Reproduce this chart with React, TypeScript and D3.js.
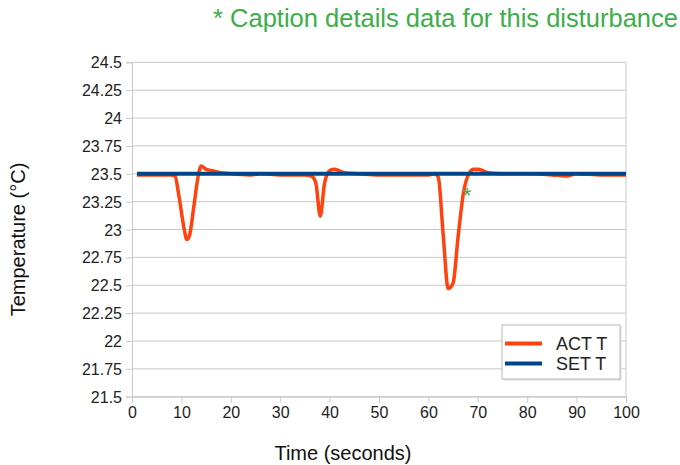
import React, { useEffect, useRef } from 'react';
import * as d3 from 'd3';

const actTime = [1, 5, 8, 8.7, 9.5, 10.5, 11.1, 11.6, 12.5, 13.4, 14, 15, 16, 18, 20, 24, 26, 30, 35, 36.3, 37.2, 38.1, 39, 40.1, 41, 43, 46, 50, 55, 60, 61.3, 62, 63, 64, 65, 66, 67.1, 68.2, 69.2, 70.2, 72, 75, 80, 85, 88, 90, 95, 100];
const actTemp = [23.49, 23.49, 23.49, 23.48, 23.3, 23.02, 22.91, 22.94, 23.2, 23.48, 23.57, 23.54, 23.53, 23.51, 23.5, 23.49, 23.5, 23.49, 23.49, 23.48, 23.42, 23.12, 23.42, 23.53, 23.54, 23.51, 23.5, 23.49, 23.49, 23.49, 23.5, 23.47, 22.95, 22.47, 22.52, 22.93, 23.33, 23.5, 23.54, 23.54, 23.51, 23.5, 23.5, 23.49, 23.48, 23.5, 23.49, 23.49];
const setTime = [1, 100];
const setTemp = [23.5, 23.5];

const xTicks = [0, 10, 20, 30, 40, 50, 60, 70, 80, 90, 100];
const yTicks = [21.5, 21.75, 22, 22.25, 22.5, 22.75, 23, 23.25, 23.5, 23.75, 24, 24.25, 24.5];

const seriesNames = ['ACT T', 'SET T'];
const seriesColors = ['#ff420e', '#004586'];

const marker = { time: 67.8, temp: 23.33 };
const caption = '* Caption details data for this disturbance';

export default function App() {
  const svgRef = useRef<SVGSVGElement>(null);

  useEffect(() => {
    if (!svgRef.current) return;
    const svg = d3.select(svgRef.current);
    svg.selectAll('*').remove();

    const font = '"Liberation Sans", Arial, sans-serif';
    const left = 132, right = 626, top = 62.3, bottom = 396.7;

    const x = d3.scaleLinear().domain([0, 100]).range([left, right]);
    const y = d3.scaleLinear().domain([21.5, 24.5]).range([bottom, top]);

    // grid
    svg.append('g')
      .selectAll('line')
      .data(yTicks)
      .enter()
      .append('line')
      .attr('x1', left)
      .attr('x2', right)
      .attr('y1', d => y(d))
      .attr('y2', d => y(d))
      .attr('stroke', '#c8c8c8')
      .attr('stroke-width', 1);

    svg.append('line')
      .attr('x1', right).attr('x2', right)
      .attr('y1', top).attr('y2', bottom)
      .attr('stroke', '#c8c8c8');

    // axes
    const yAxis = svg.append('g')
      .attr('transform', `translate(${left},0)`)
      .call(d3.axisLeft(y).tickValues(yTicks).tickSize(6).tickPadding(4).tickFormat(d => String(d)));
    yAxis.select('.domain').attr('stroke', '#c8c8c8');
    yAxis.selectAll('.tick line').attr('stroke', '#c8c8c8');
    yAxis.selectAll('.tick text')
      .attr('fill', '#222')
      .attr('font-size', '16px')
      .attr('font-family', font)
      .attr('dy', '0.35em');

    const xAxis = svg.append('g')
      .attr('transform', `translate(0,${bottom})`)
      .call(d3.axisBottom(x).tickValues(xTicks).tickSize(6).tickPadding(4).tickFormat(d => String(d)));
    xAxis.select('.domain').attr('stroke', '#c8c8c8');
    xAxis.selectAll('.tick line').attr('stroke', '#c8c8c8');
    xAxis.selectAll('.tick text')
      .attr('fill', '#222')
      .attr('font-size', '16px')
      .attr('font-family', font);

    // lines
    const line = d3.line<[number, number]>()
      .x(d => x(d[0]))
      .y(d => y(d[1]))
      .curve(d3.curveMonotoneX);

    const actData = actTime.map((t, i) => [t, actTemp[i]] as [number, number]);
    const setData = setTime.map((t, i) => [t, setTemp[i]] as [number, number]);

    svg.append('path')
      .datum(actData)
      .attr('fill', 'none')
      .attr('stroke', seriesColors[0])
      .attr('stroke-width', 3.5)
      .attr('stroke-linejoin', 'round')
      .attr('d', line);

    svg.append('path')
      .datum(setData)
      .attr('fill', 'none')
      .attr('stroke', seriesColors[1])
      .attr('stroke-width', 4)
      .attr('d', line);

    // marker asterisk
    svg.append('text')
      .attr('x', x(marker.time))
      .attr('y', y(marker.temp))
      .attr('text-anchor', 'middle')
      .attr('dy', '0.45em')
      .attr('fill', '#3cae49')
      .attr('font-size', '22px')
      .attr('font-family', font)
      .text('*');

    // legend
    const lg = svg.append('g').attr('transform', 'translate(502,325)');
    lg.append('rect')
      .attr('x', 1.5).attr('y', 1.5)
      .attr('width', 118).attr('height', 54)
      .attr('fill', '#e0e0e0');
    lg.append('rect')
      .attr('width', 118).attr('height', 54)
      .attr('fill', '#fff')
      .attr('stroke', '#b8b8b8');
    seriesNames.forEach((name, i) => {
      const ly = 18.5 + i * 20;
      lg.append('line')
        .attr('x1', 3).attr('x2', 40)
        .attr('y1', ly).attr('y2', ly)
        .attr('stroke', seriesColors[i])
        .attr('stroke-width', 4);
      lg.append('text')
        .attr('x', 54)
        .attr('y', ly)
        .attr('dy', '0.35em')
        .attr('fill', '#222')
        .attr('font-size', '18px')
        .attr('font-family', font)
        .text(name);
    });

    // titles
    svg.append('text')
      .attr('transform', `translate(25,${(top + bottom) / 2 + 10}) rotate(-90)`)
      .attr('text-anchor', 'middle')
      .attr('fill', '#111')
      .attr('font-size', '20px')
      .attr('font-family', font)
      .text('Temperature (°C)');

    svg.append('text')
      .attr('x', 343)
      .attr('y', 460)
      .attr('text-anchor', 'middle')
      .attr('fill', '#111')
      .attr('font-size', '20px')
      .attr('font-family', font)
      .text('Time (seconds)');

    svg.append('text')
      .attr('x', 678)
      .attr('y', 27)
      .attr('text-anchor', 'end')
      .attr('fill', '#3cae49')
      .attr('font-size', '25.5px')
      .attr('font-family', font)
      .text(caption);
  }, []);

  return (
    <svg
      ref={svgRef}
      width={680}
      height={465}
      style={{ position: 'absolute', left: 0, top: 0, background: '#fff' }}
    />
  );
}
